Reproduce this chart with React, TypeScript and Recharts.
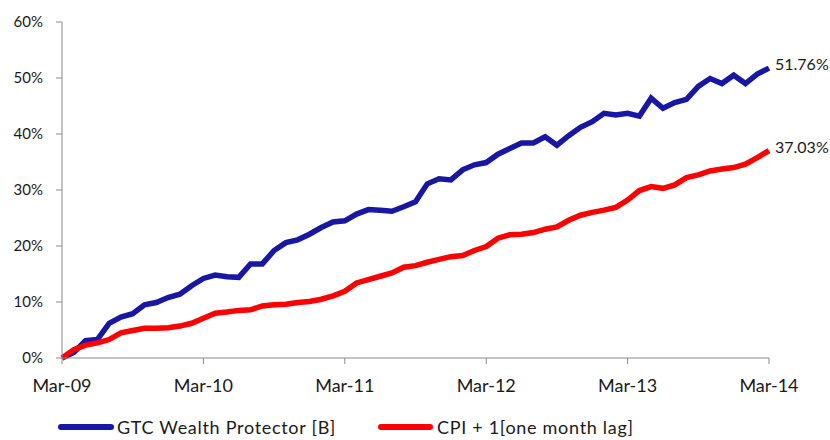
import { LineChart, Line, XAxis, YAxis } from 'recharts';

const gtcWealth = [
  0, 1.0, 3.1, 3.3, 6.2, 7.3, 7.9, 9.5, 9.9, 10.8, 11.4, 12.9, 14.2, 14.8, 14.5, 14.4,
  16.8, 16.8, 19.2, 20.6, 21.1, 22.1, 23.3, 24.3, 24.5, 25.7, 26.5, 26.4, 26.2, 27.0,
  27.9, 31.1, 32.0, 31.8, 33.6, 34.5, 34.9, 36.4, 37.4, 38.4, 38.4, 39.5, 38.0, 39.7,
  41.2, 42.2, 43.7, 43.4, 43.7, 43.2, 46.4, 44.6, 45.6, 46.2, 48.5, 49.9, 49.0, 50.5,
  49.0, 50.7, 51.76,
];

const cpiPlusOne = [
  0, 1.5, 2.3, 2.7, 3.3, 4.5, 4.9, 5.3, 5.3, 5.4, 5.7, 6.2, 7.1, 8.0, 8.2, 8.5, 8.6,
  9.3, 9.5, 9.6, 9.9, 10.1, 10.5, 11.1, 11.9, 13.4, 14.0, 14.6, 15.2, 16.2, 16.5, 17.1,
  17.6, 18.1, 18.3, 19.2, 19.9, 21.4, 22.0, 22.1, 22.4, 23.0, 23.4, 24.6, 25.5, 26.0,
  26.4, 26.9, 28.2, 29.9, 30.6, 30.3, 30.9, 32.2, 32.7, 33.4, 33.75, 34.0, 34.6, 35.8,
  37.03,
];

const xTicks = [0, 12, 24, 36, 48, 60];
const xTickLabels = ['Mar-09', 'Mar-10', 'Mar-11', 'Mar-12', 'Mar-13', 'Mar-14'];
const yTicks = [0, 10, 20, 30, 40, 50, 60];

const seriesNames = ['GTC Wealth Protector [B]', 'CPI + 1[one month lag]'];
const BLUE = '#1717a3';
const RED = '#ff0000';
const AXIS = '#8a8a8a';
const FONT = 'Lato, "Open Sans", sans-serif';

const data = gtcWealth.map((g, i) => ({ m: i, gtc: g, cpi: cpiPlusOne[i] }));
const lastIndex = data.length - 1;

function endLabel(props: any) {
  const { x, y, index, value } = props;
  if (index !== lastIndex) return null;
  return (
    <text x={x + 6} y={y + 2} fontSize={16} fill="#1a1a1a" fontFamily={FONT}>
      {`${Number(value).toFixed(2)}%`}
    </text>
  );
}

const legendRow = {
  position: 'absolute' as const,
  top: 418,
  height: 18,
  display: 'flex',
  alignItems: 'center',
  fontSize: 18,
  lineHeight: '18px',
  letterSpacing: 0.7,
  color: '#1a1a1a',
  whiteSpace: 'nowrap' as const,
};

export default function App() {
  return (
    <div style={{ position: 'absolute', left: 0, top: 0, width: 830, height: 440, background: '#fff', fontFamily: FONT, overflow: 'hidden' }}>
      <LineChart width={830} height={440} data={data} margin={{ top: 22, right: 61, bottom: 0, left: 0 }}>
        <XAxis
          dataKey="m"
          type="number"
          domain={[0, 60]}
          ticks={xTicks}
          tickFormatter={(v: number) => xTickLabels[xTicks.indexOf(v)]}
          height={82}
          stroke={AXIS}
          tickSize={6}
          tickMargin={15}
          tick={{ fill: '#1a1a1a', fontSize: 18, fontFamily: FONT }}
        />
        <YAxis
          domain={[0, 60]}
          ticks={yTicks}
          tickFormatter={(v: number) => `${v}%`}
          width={62}
          stroke={AXIS}
          tickSize={6}
          tickMargin={13}
          tick={{ fill: '#1a1a1a', fontSize: 15, fontFamily: FONT }}
        />
        <Line
          dataKey="gtc"
          stroke={BLUE}
          strokeWidth={5.5}
          dot={false}
          isAnimationActive={false}
          label={endLabel}
        />
        <Line
          dataKey="cpi"
          stroke={RED}
          strokeWidth={5.5}
          dot={false}
          isAnimationActive={false}
          label={endLabel}
        />
      </LineChart>
      <div style={{ ...legendRow, left: 58 }}>
        <span style={{ display: 'inline-block', width: 56, height: 6, borderRadius: 3, background: BLUE, marginRight: 3 }} />
        <span>{seriesNames[0]}</span>
      </div>
      <div style={{ ...legendRow, left: 378 }}>
        <span style={{ display: 'inline-block', width: 55, height: 6, borderRadius: 3, background: RED, marginRight: 4 }} />
        <span>{seriesNames[1]}</span>
      </div>
    </div>
  );
}
